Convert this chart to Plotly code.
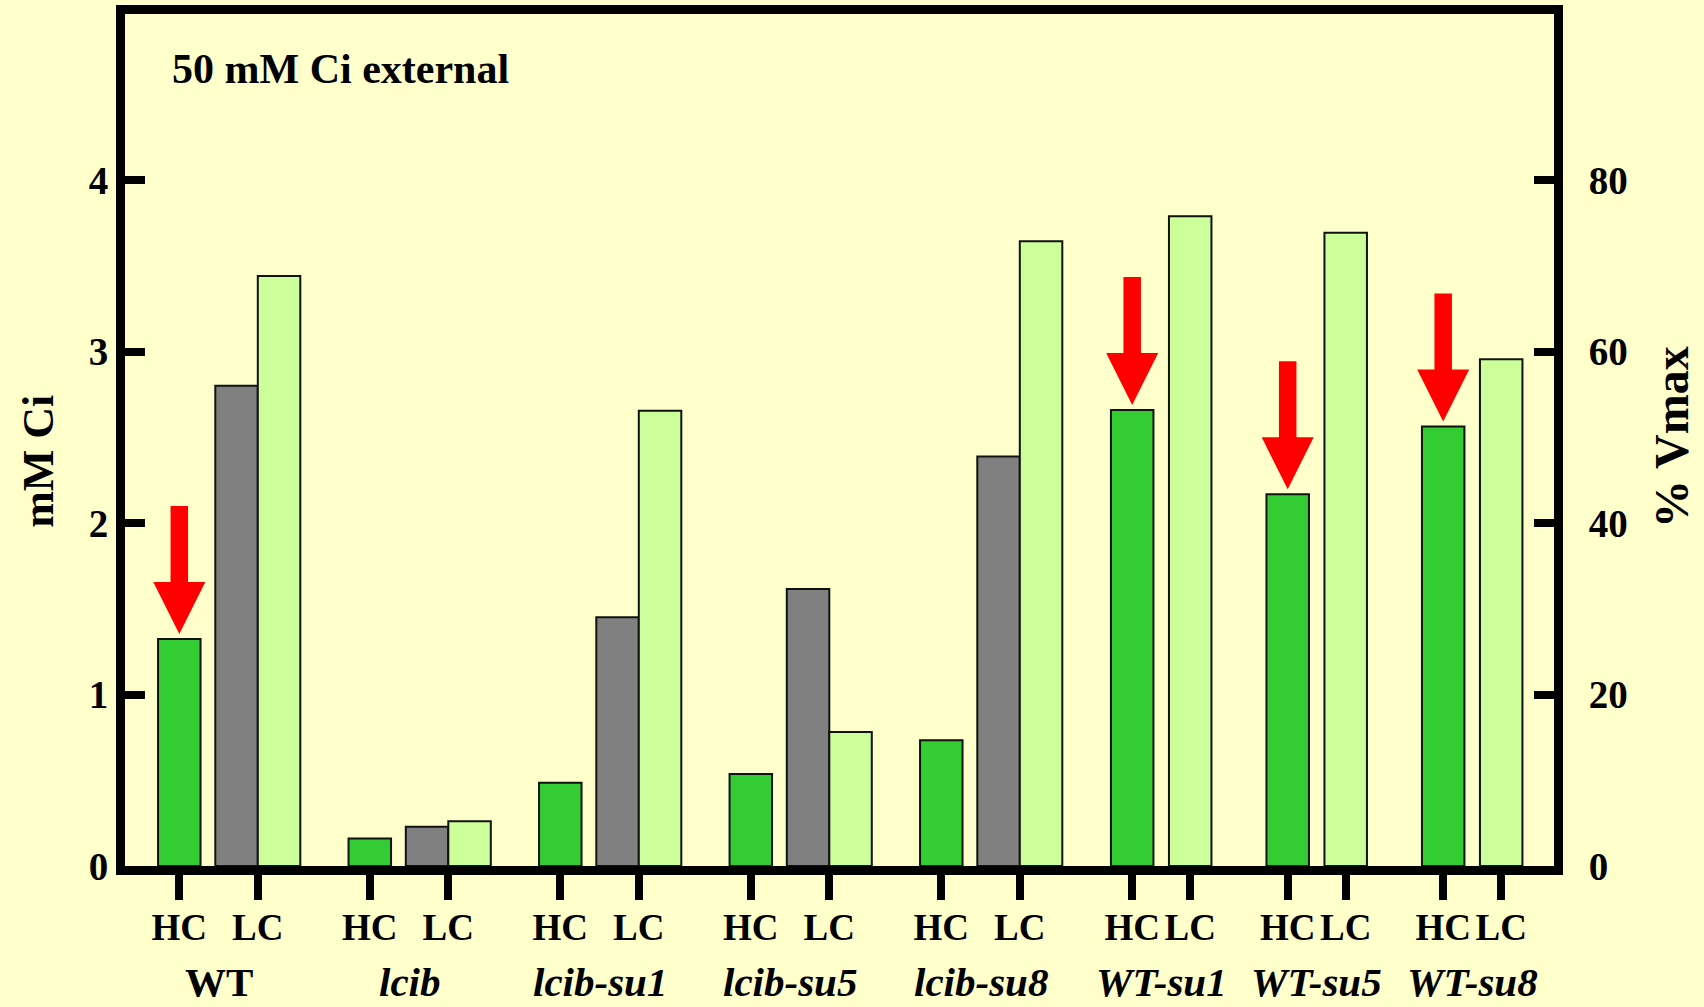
import plotly.graph_objects as go

# ---- data -------------------------------------------------------------
strains = ["WT", "lcib", "lcib-su1", "lcib-su5", "lcib-su8", "WT-su1", "WT-su5", "WT-su8"]
italic_names = [False, True, True, True, True, True, True, True]
hc_ci = [1.324, 0.161, 0.486, 0.536, 0.733, 2.659, 2.167, 2.562]     # HC-grown, mM Ci
lc_vmax_strains = ["WT", "lcib", "lcib-su1", "lcib-su5", "lcib-su8"]
lc_vmax = [2.80, 0.229, 1.45, 1.615, 2.388]                          # grey bars
lc_ci = [3.44, 0.261, 2.654, 0.781, 3.643, 3.788, 3.693, 2.955]      # LC-grown, mM Ci
arrow_strains = ["WT", "WT-su1", "WT-su5", "WT-su8"]
left_ticks = [0, 1, 2, 3, 4]
right_ticks = [0, 20, 40, 60, 80]

# ---- layout constants (x axis runs in pixel-like units) ------------------
BAR_W = 42.5
FIRST_HC = 54.3                 # first HC position
STEP_A, PAIR_A = 190.5, 78.5    # groups with three bars
FIRST_HC_B = 1007.2
STEP_B, PAIR_B = 155.5, 58.0    # groups with two bars
X_SPAN = 1429
Y_MAX = 4.968

GREEN, GREY, PALE, RED = "#33cc33", "#808080", "#ccff99", "#ff0000"
BG = "#ffffcc"
FONT = "Liberation Serif"

n_a = len(lc_vmax_strains)
hc_x, lc_x = [], []
for i, s in enumerate(strains):
    if i < n_a:
        h = FIRST_HC + i * STEP_A
        hc_x.append(h)
        lc_x.append(h + PAIR_A)
    else:
        h = FIRST_HC_B + (i - n_a) * STEP_B
        hc_x.append(h)
        lc_x.append(h + PAIR_B)

grey_x = [lc_x[strains.index(s)] for s in lc_vmax_strains]
pale_offset = [0.0 if s in lc_vmax_strains else -BAR_W / 2 for s in strains]

outline = dict(color="#111111", width=2)
fig = go.Figure()
fig.add_trace(go.Bar(x=hc_x, y=hc_ci, width=BAR_W, offset=-BAR_W / 2,
                     marker=dict(color=GREEN, line=outline), name="HC"))
fig.add_trace(go.Bar(x=grey_x, y=lc_vmax, width=BAR_W, offset=-BAR_W,
                     marker=dict(color=GREY, line=outline), name="LC"))
fig.add_trace(go.Bar(x=lc_x, y=lc_ci, width=BAR_W, offset=pale_offset,
                     marker=dict(color=PALE, line=outline), name="LC"))
# invisible trace to bring up the right-hand axis
fig.add_trace(go.Scatter(x=[hc_x[0]], y=[0], yaxis="y2", mode="markers",
                         marker=dict(opacity=0), showlegend=False, hoverinfo="skip"))

# red arrows pointing down at selected HC bars
shapes = []
for s in arrow_strains:
    i = strains.index(s)
    shapes.append(dict(
        type="path", xref="x", yref="y", xsizemode="pixel", ysizemode="pixel",
        xanchor=hc_x[i], yanchor=hc_ci[i],
        path="M -8.75,133 L 8.75,133 L 8.75,57 L 26,57 L 0,5 L -26,57 L -8.75,57 Z",
        fillcolor=RED, line=dict(width=0), layer="above"))

bold = dict(family=FONT, color="black", weight="bold")
annotations = [
    dict(text="50 mM Ci external", xref="x", yref="paper", x=45, y=0.935,
         xanchor="left", yanchor="middle", showarrow=False, font=dict(bold, size=42)),
    dict(text="mM Ci", xref="paper", yref="paper", x=-0.0605, y=0.475, textangle=-90,
         xanchor="center", yanchor="middle", showarrow=False, font=dict(bold, size=44)),
    dict(text="% Vmax", xref="paper", yref="paper", x=1.0823, y=0.503, textangle=-90,
         xanchor="center", yanchor="middle", showarrow=False, font=dict(bold, size=48)),
]
for i, s in enumerate(strains):
    annotations.append(dict(
        text=s, xref="x", yref="paper", x=(hc_x[i] + lc_x[i]) / 2, y=-0.136,
        xanchor="center", yanchor="middle", showarrow=False,
        font=dict(bold, size=41, style="italic" if italic_names[i] else "normal")))

tickvals, ticktext = [], []
for h, l in zip(hc_x, lc_x):
    tickvals += [h, l]
    ticktext += ["HC", "LC"]

tick_font = dict(bold, size=39)

fig.update_layout(
    width=1704, height=1007,
    margin=dict(l=125, r=150, t=14, b=141, autoexpand=False),
    paper_bgcolor=BG, plot_bgcolor=BG,
    barmode="overlay", showlegend=False,
    shapes=shapes, annotations=annotations,
    xaxis=dict(range=[0, X_SPAN], tickvals=tickvals, ticktext=ticktext,
               ticks="outside", ticklen=25, tickwidth=8, tickcolor="black",
               showline=True, linewidth=9, linecolor="black", mirror=True,
               showgrid=False, zeroline=False, automargin=False,
               ticklabelstandoff=-4, tickfont=dict(bold, size=37)),
    yaxis=dict(range=[0, Y_MAX], tickvals=left_ticks, ticks="inside", ticklen=20,
               tickwidth=8, tickcolor="black", showline=True, linewidth=9,
               linecolor="black", showgrid=False, zeroline=False, automargin=False,
               tickfont=tick_font),
    yaxis2=dict(range=[0, Y_MAX * 20], tickvals=right_ticks, ticks="inside", ticklen=20,
                tickwidth=8, tickcolor="black", showline=True, linewidth=9,
                linecolor="black", showgrid=False, zeroline=False, automargin=False,
                tickfont=tick_font, overlaying="y", side="right", ticklabelstandoff=18),
)

fig.write_html("out.html")
